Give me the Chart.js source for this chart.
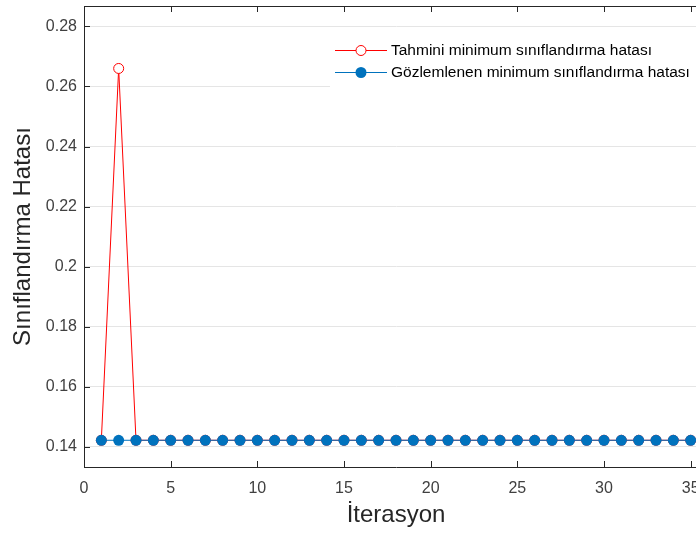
<!DOCTYPE html>
<html>
<head>
<meta charset="utf-8">
<script src="https://cdn.jsdelivr.net/npm/chart.js@4/dist/chart.umd.min.js"></script>
<style>
  html, body { margin: 0; padding: 0; background: #fff; }
  /* the original axes run past the right edge of the picture, so the canvas is cropped */
  #wrap { width: 696px; height: 533px; overflow: hidden; }
</style>
</head>
<body>
<div id="wrap"><canvas id="hata_chart" width="714" height="533"></canvas></div>
<script>
// data
const iterasyon = [1, 2, 3, 4, 5, 6, 7, 8, 9, 10, 11, 12, 13, 14, 15, 16, 17, 18,
  19, 20, 21, 22, 23, 24, 25, 26, 27, 28, 29, 30, 31, 32, 33, 34, 35];
const tahmini_hata = [0.1422, 0.266, 0.1422, 0.1422, 0.1422, 0.1422, 0.1422, 0.1422,
  0.1422, 0.1422, 0.1422, 0.1422, 0.1422, 0.1422, 0.1422, 0.1422, 0.1422, 0.1422,
  0.1422, 0.1422, 0.1422, 0.1422, 0.1422, 0.1422, 0.1422, 0.1422, 0.1422, 0.1422,
  0.1422, 0.1422, 0.1422, 0.1422, 0.1422, 0.1422, 0.1422];
const gozlemlenen_hata = [0.1422, 0.1422, 0.1422, 0.1422, 0.1422, 0.1422, 0.1422, 0.1422,
  0.1422, 0.1422, 0.1422, 0.1422, 0.1422, 0.1422, 0.1422, 0.1422, 0.1422, 0.1422,
  0.1422, 0.1422, 0.1422, 0.1422, 0.1422, 0.1422, 0.1422, 0.1422, 0.1422, 0.1422,
  0.1422, 0.1422, 0.1422, 0.1422, 0.1422, 0.1422, 0.1422];
const x_ticks = [0, 5, 10, 15, 20, 25, 30, 35];
const y_ticks = [0.14, 0.16, 0.18, 0.2, 0.22, 0.24, 0.26, 0.28];
const series_names = ["Tahmini minimum sınıflandırma hatası", "Gözlemlenen minimum sınıflandırma hatası"];

const red = "#ff0000";
const blue = "#0072bd";
const axis_color = "#262626";
const font_family = "'Liberation Sans', Arial, Helvetica, sans-serif";

function toPoints(ys) {
  return iterasyon.map((it, i) => ({ x: it, y: ys[i] }));
}

// box top edge, inward ticks and the legend (matlab look)
const boxPlugin = {
  id: "matlabBox",
  afterDraw(chart) {
    const ctx = chart.ctx;
    const a = chart.chartArea;
    const xs = chart.scales.x, ys = chart.scales.y;
    ctx.save();

    // legend
    const lx = 330, ly = 36;
    ctx.fillStyle = "#fff";
    ctx.fillRect(lx, ly, a.right - lx, 54);
    const rows = [
      { y: 50, color: red, filled: false, label: series_names[0] },
      { y: 72, color: blue, filled: true, label: series_names[1] },
    ];
    ctx.font = "15.5px " + font_family;
    ctx.textBaseline = "middle";
    rows.forEach(r => {
      ctx.strokeStyle = r.color;
      ctx.lineWidth = 1;
      ctx.beginPath();
      ctx.moveTo(335, r.y + 0.5);
      ctx.lineTo(387, r.y + 0.5);
      ctx.stroke();
      ctx.beginPath();
      ctx.arc(361, r.y + 0.5, r.filled ? 5.5 : 5, 0, Math.PI * 2);
      if (r.filled) {
        ctx.fillStyle = r.color;
        ctx.fill();
      } else {
        ctx.fillStyle = "#fff";
        ctx.fill();
        ctx.stroke();
      }
      ctx.fillStyle = "#000";
      ctx.fillText(r.label, 391, r.y + 1);
    });

    // top edge + ticks
    ctx.strokeStyle = axis_color;
    ctx.lineWidth = 1;
    ctx.beginPath();
    ctx.moveTo(a.left, Math.round(a.top) + 0.5);
    ctx.lineTo(a.right, Math.round(a.top) + 0.5);
    x_ticks.forEach(v => {
      const px = Math.round(xs.getPixelForValue(v)) + 0.5;
      ctx.moveTo(px, a.bottom);
      ctx.lineTo(px, a.bottom - 6);
      ctx.moveTo(px, a.top);
      ctx.lineTo(px, a.top + 6);
    });
    y_ticks.forEach(v => {
      const py = Math.round(ys.getPixelForValue(v)) + 0.5;
      ctx.moveTo(a.left, py);
      ctx.lineTo(a.left + 6, py);
    });
    ctx.stroke();
    ctx.restore();
  }
};

const ctx = document.getElementById("hata_chart").getContext("2d");
const my_chart = new Chart(ctx, {
  type: "line",
  data: {
    datasets: [
      {
        label: series_names[0],
        data: toPoints(tahmini_hata),
        borderColor: red,
        backgroundColor: "#fff",
        borderWidth: 1,
        pointRadius: 5,
        pointBorderWidth: 1,
        pointBorderColor: red,
        pointBackgroundColor: "#fff",
        tension: 0,
        order: 2,
      },
      {
        label: series_names[1],
        data: toPoints(gozlemlenen_hata),
        borderColor: blue,
        backgroundColor: blue,
        borderWidth: 1,
        pointRadius: 5.5,
        pointBorderWidth: 0,
        pointBackgroundColor: blue,
        tension: 0,
        order: 1,
      },
    ],
  },
  options: {
    responsive: false,
    animation: false,
    devicePixelRatio: 1,
    layout: { padding: { top: 6, right: 0, bottom: 0, left: 0 } },
    plugins: {
      legend: { display: false },
      tooltip: { enabled: false },
    },
    scales: {
      x: {
        type: "linear",
        min: 0,
        max: 36,
        afterBuildTicks: s => { s.ticks = x_ticks.map(v => ({ value: v })); },
        afterFit: s => { s.height = 66; s.paddingLeft = 0; s.paddingRight = 0; },
        grid: { display: false, drawTicks: false },
        border: { display: true, color: axis_color, width: 1 },
        ticks: {
          padding: 12,
          color: "#404040",
          font: { family: font_family, size: 16 },
          maxRotation: 0,
          callback: v => String(v),
        },
        title: {
          display: true,
          text: "İterasyon",
          color: "#262626",
          font: { family: font_family, size: 24 },
          padding: { top: 0, bottom: 3 },
        },
      },
      y: {
        min: 0.1333,
        max: 0.2868,
        afterBuildTicks: s => { s.ticks = y_ticks.map(v => ({ value: v })); },
        afterFit: s => { s.width = 84; s.paddingTop = 0; s.paddingBottom = 0; },
        grid: { color: "#e5e5e5", drawTicks: false },
        border: { display: true, color: axis_color, width: 1 },
        ticks: {
          padding: 7,
          color: "#404040",
          font: { family: font_family, size: 16 },
          callback: v => String(+v.toFixed(2)),
        },
        title: {
          display: true,
          text: "Sınıflandırma Hatası",
          color: "#262626",
          font: { family: font_family, size: 24 },
          padding: { top: 9, bottom: 0 },
        },
      },
    },
  },
  plugins: [boxPlugin],
});
</script>
</body>
</html>
